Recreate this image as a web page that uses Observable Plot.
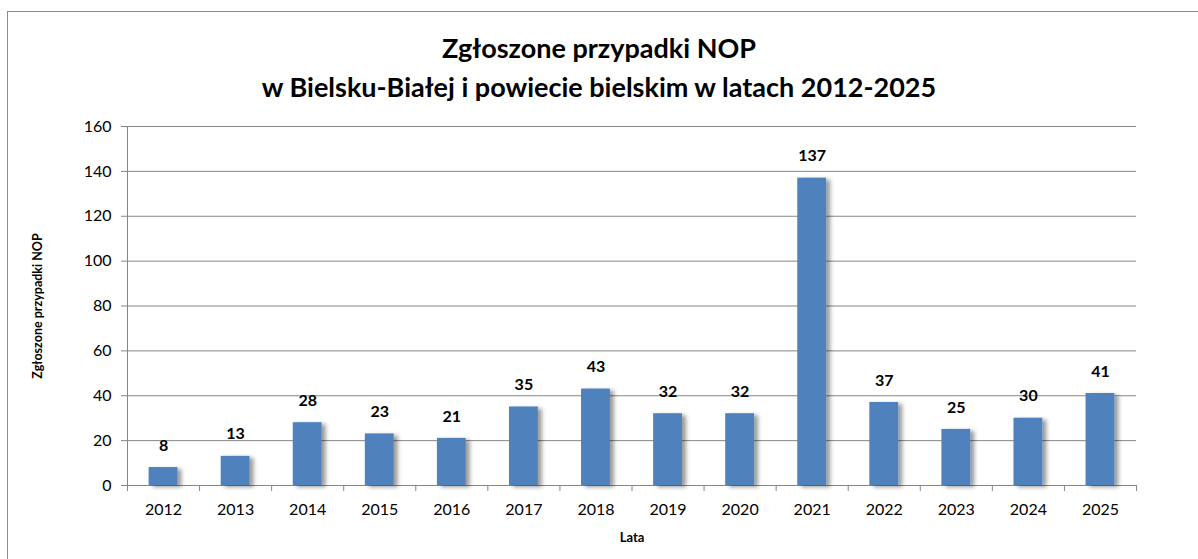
<!DOCTYPE html>
<html>
<head>
<meta charset="utf-8">
<script src="https://cdn.jsdelivr.net/npm/d3@7"></script>
<script src="https://cdn.jsdelivr.net/npm/@observablehq/plot@0.6"></script>
<style>
  html, body { margin: 0; padding: 0; background: #fff; overflow: hidden; }
  #wrap { position: relative; width: 1198px; height: 559px; font-family: Lato, "Open Sans", sans-serif; }
  #border { position: absolute; left: 7px; top: 11px; width: 1300px; height: 700px; border: 1px solid #8c8c8c; box-sizing: border-box; pointer-events: none; }
  #title { position: relative; height: 105px; box-sizing: border-box; padding-top: 28px; text-align: center; font-weight: bold; font-size: 27px; line-height: 39px; color: #000; width: 1198px; }
  #chart svg { display: block; }
</style>
</head>
<body>
<div id="wrap">
  <div id="border"></div>
  <div id="title">Zgłoszone przypadki NOP<br>w Bielsku-Białej i powiecie bielskim w latach 2012-2025</div>
  <div id="chart"></div>
</div>
<script>
const years = [2012, 2013, 2014, 2015, 2016, 2017, 2018, 2019, 2020, 2021, 2022, 2023, 2024, 2025];
const values = [8, 13, 28, 23, 21, 35, 43, 32, 32, 137, 37, 25, 30, 41];
const yTicks = [0, 20, 40, 60, 80, 100, 120, 140, 160];
const yLabel = "Zgłoszone przypadki NOP";
const xLabel = "Lata";

const data = years.map((y, i) => ({year: y, value: values[i]}));
const boundaries = years.map(y => y - 0.5).concat([years[years.length - 1] + 0.5]);

const barColor = "#4F81BD";
const gridColor = "#868686";

const plot = Plot.plot({
  width: 1198,
  height: 454,
  marginLeft: 127,
  marginRight: 62,
  marginTop: 21,
  marginBottom: 74,
  style: {fontFamily: "Lato, 'Open Sans', sans-serif", background: "transparent", color: "#000"},
  x: {domain: [years[0] - 0.5, years[years.length - 1] + 0.5]},
  y: {domain: [0, 160]},
  marks: [
    Plot.gridY(yTicks, {stroke: gridColor, strokeOpacity: 1, strokeWidth: 1}),
    Plot.ruleX([boundaries[0]], {stroke: gridColor, strokeWidth: 1}),
    Plot.axisY({ticks: yTicks, tickSize: 6, tickPadding: 10, stroke: gridColor, fill: "#000", fontSize: 16, label: null}),
    Plot.axisX({ticks: boundaries, tickSize: 6, stroke: gridColor, tickFormat: () => "", label: null}),
    Plot.axisX({ticks: years, tickSize: 0, tickPadding: 18, fill: "#000", fontSize: 16, tickFormat: d => String(d), label: null}),
    Plot.rectY(data, {x1: d => d.year - 0.2, x2: d => d.year + 0.2, y: "value", fill: barColor}),
    Plot.text(data, {x: "year", y: "value", text: d => String(d.value), dy: -22, fontWeight: "bold", fontSize: 16, fill: "#000"}),
    Plot.text([yLabel], {frameAnchor: "left", textAnchor: "middle", rotate: -90, dx: -90, fontWeight: "bold", fontSize: 12.5, fill: "#000"}),
    Plot.text([xLabel], {frameAnchor: "bottom", dy: 56, fontWeight: "bold", fontSize: 13, fill: "#000"})
  ]
});

// drop shadow for bars (Excel-style)
const ns = "http://www.w3.org/2000/svg";
const defs = document.createElementNS(ns, "defs");
defs.innerHTML = '<filter id="barShadow" x="-30%" y="-10%" width="180%" height="130%"><feDropShadow dx="4" dy="2" stdDeviation="2.2" flood-color="#000" flood-opacity="0.4"/></filter>';
plot.insertBefore(defs, plot.firstChild);
const rectGroup = plot.querySelector('g[aria-label="rect"]');
if (rectGroup) rectGroup.setAttribute("filter", "url(#barShadow)");

document.getElementById("chart").appendChild(plot);
</script>
</body>
</html>
